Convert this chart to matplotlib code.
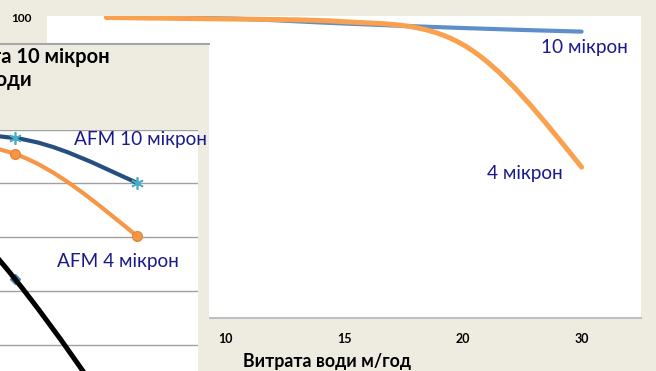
import numpy as np
import matplotlib
matplotlib.use('Agg')
import matplotlib.pyplot as plt
from matplotlib.path import Path
from matplotlib.patches import PathPatch

plt.rcParams['font.family'] = ['Lato', 'DejaVu Sans']

# back chart: % of pressure vs water flow
flow = ['5', '10', '15', '20', '30']
micron10 = [100, 99.7, 98.0, 96.5, 95.3]
micron4 = [100, 99.5, 98.6, 91.0, 50.2]
pct_ticks = [0, 10, 20, 30, 40, 50, 60, 70, 80, 90, 100]

# front chart (only partly visible)
afm10 = [0.4935, 0.484, 0.401]
afm4 = [0.4805, 0.4545, 0.3024]
third = [0.4712, 0.2226, -0.0946]
grid_vals = [0.1, 0.2, 0.3, 0.4, 0.5]

BG = '#EEECE1'
NAVY = '#1A1A8C'
W, H = 656, 371


def fx(x):
    return x / W


def fy(y):
    return 1 - y / H


def smooth(ax, x, y, color, lw, z=3):
    # smoothed line without overshoot (fritsch-carlson cubic -> bezier)
    x = np.asarray(x, float)
    y = np.asarray(y, float)
    n = len(y)
    d = np.diff(y) / np.diff(x)
    m = np.zeros(n)
    for i in range(1, n - 1):
        if d[i - 1] * d[i] > 0:
            m[i] = (d[i - 1] + d[i]) / 2
    m[0] = (3 * d[0] - m[1]) / 2
    m[-1] = (3 * d[-1] - m[-2]) / 2
    for i in range(n - 1):
        if d[i] == 0:
            m[i] = m[i + 1] = 0
            continue
        a, b = m[i] / d[i], m[i + 1] / d[i]
        s = a * a + b * b
        if s > 9:
            t = 3 / np.sqrt(s)
            m[i], m[i + 1] = t * a * d[i], t * b * d[i]
    verts = [(x[0], y[0])]
    codes = [Path.MOVETO]
    for i in range(n - 1):
        h = x[i + 1] - x[i]
        verts += [(x[i] + h / 3, y[i] + m[i] * h / 3),
                  (x[i + 1] - h / 3, y[i + 1] - m[i + 1] * h / 3),
                  (x[i + 1], y[i + 1])]
        codes += [Path.CURVE4] * 3
    ax.add_patch(PathPatch(Path(verts, codes), facecolor='none', edgecolor=color,
                           lw=lw, capstyle='round', zorder=z))


fig = plt.figure(figsize=(W / 100, H / 100), dpi=100, facecolor=BG)

# ---- back chart
ax = fig.add_axes([fx(47), fy(318), fx(641 - 47), (318 - 16) / H], zorder=0)
ax.set_facecolor('white')
idx = np.arange(len(flow))
smooth(ax, idx, micron10, '#5E8FCA', 3.0, 2)
smooth(ax, idx, micron4, '#F9A14E', 3.6, 3)
ax.set_xlim(-0.5, 4.5)
ax.set_ylim(0, 100.5)
ax.set_xticks(idx)
ax.set_xticklabels(flow)
ax.set_yticks(pct_ticks)
for s in ['top', 'left', 'right']:
    ax.spines[s].set_visible(False)
ax.spines['bottom'].set_color('#BFBFBF')
ax.spines['bottom'].set_linewidth(1.5)
ax.tick_params(length=0, labelsize=9, pad=11)
ax.tick_params(axis='y', labelsize=8.5, pad=11)
for lab in ax.get_xticklabels() + ax.get_yticklabels():
    lab.set_fontweight('bold')
fig.text(fx(541), fy(47), '10 мікрон', color=NAVY, fontsize=13.7, va='center')
fig.text(fx(487), fy(173), '4 мікрон', color=NAVY, fontsize=13.7, va='center')
fig.text(fx(243), fy(362), 'Витрата води м/год', fontsize=12.8, fontweight='bold', va='center')

# ---- front chart panel
panel = fig.add_axes([0, 0, fx(209), (H - 44) / H], zorder=5)
panel.set_facecolor(BG)
panel.set_xticks([])
panel.set_yticks([])
for s in ['left', 'right', 'bottom']:
    panel.spines[s].set_visible(False)
panel.spines['top'].set_color('#A6A6A6')
panel.spines['top'].set_linewidth(1.5)

ax2 = fig.add_axes([0, 0, fx(198), (H - 129.5) / H], zorder=6)
ax2.set_facecolor('white')
ax2.set_xlim(0.877, 2.5)
ax2.set_ylim(0.052, 0.5)
ax2.set_yticks(grid_vals)
ax2.yaxis.grid(True, color='#A0A0A0', lw=1)
ax2.tick_params(left=False, labelleft=False, bottom=False, labelbottom=False)
for s in ax2.spines.values():
    s.set_visible(False)
i2 = np.arange(len(afm10))
ax2.plot(i2[1:2], third[1:2], 'D', color='#4F81BD', ms=5, zorder=2)
smooth(ax2, i2, third, 'black', 3.6, 3)
smooth(ax2, i2, afm10, '#254F80', 3.0, 3)
smooth(ax2, i2, afm4, '#F79646', 3.0, 3)
ax2.plot(i2, afm10, ls='none', marker=(6, 2, 0), ms=9, mew=1.2, color='#4BACC6', zorder=4)
ax2.plot(i2, afm4, ls='none', marker='o', ms=7, mfc='#F79646', mec='#E8843A', zorder=4)

fig.text(fx(110), fy(57), 'Втрата тиску AFM 4 та 10 мікрон', ha='right', va='center',
         fontsize=14.5, fontweight='bold', zorder=7)
fig.text(fx(32), fy(80.5), 'Витрата води', ha='right', va='center',
         fontsize=14.5, fontweight='bold', zorder=7)
fig.text(fx(74), fy(140), 'AFM 10 мікрон', color=NAVY, fontsize=13.7, va='center', zorder=7)
fig.text(fx(57), fy(261), 'AFM 4 мікрон', color=NAVY, fontsize=13.7, va='center', zorder=7)

fig.savefig('out.png', dpi=100, facecolor=BG)
